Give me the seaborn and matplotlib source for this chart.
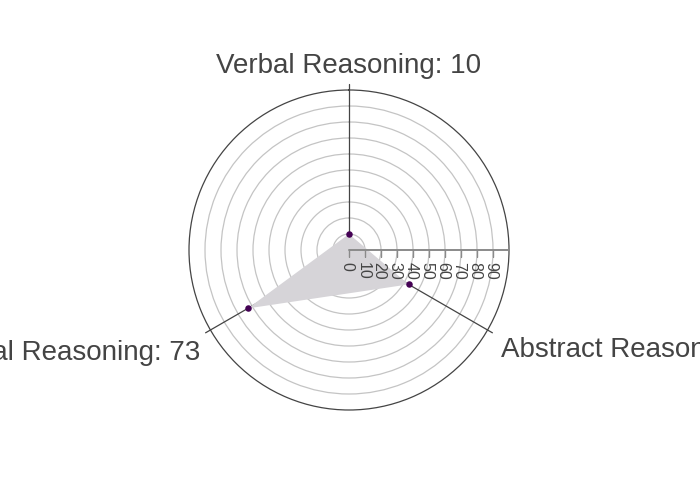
import matplotlib
matplotlib.use("Agg")
import matplotlib.pyplot as plt
import numpy as np
import seaborn as sns

# ------------------------------------------------------------
# DATA
# ------------------------------------------------------------
categories = ["Verbal Reasoning", "Abstract Reasoning", "Numerical Reasoning"]
scores = [10, 43, 73]
radial_ticks = [0, 10, 20, 30, 40, 50, 60, 70, 80, 90]
radial_max = 100

# ------------------------------------------------------------
# STYLE
# ------------------------------------------------------------
sns.set_theme(style="white")
plt.rcParams["font.family"] = ["Liberation Sans", "DejaVu Sans"]

TEXT = "#444444"
FILL = "#d6d4d8"
MARKER = "#440154"

fig = plt.figure(figsize=(7, 5), dpi=100)
ax = fig.add_axes([189 / 700, 90 / 500, 320 / 700, 320 / 500], projection="polar")
ax.set_theta_offset(np.pi / 2)
ax.set_theta_direction(-1)
ax.set_ylim(0, radial_max)

theta = np.deg2rad(np.arange(len(categories)) * 360 / len(categories))

# grid
ax.set_yticks(radial_ticks)
ax.set_yticklabels([])
ax.yaxis.grid(True, color="#c4c4c4", lw=0.9)
ax.set_xticks(theta)
ax.set_xticklabels([])
ax.xaxis.grid(False)
ax.spines["polar"].set_color(TEXT)
ax.spines["polar"].set_linewidth(0.9)

# angular axis lines (with outside tick)
for t in theta:
    ax.plot([t, t], [0, radial_max * 1.035], color=TEXT, lw=0.9,
            clip_on=False, zorder=1)

# filled trace
theta_closed = np.append(theta, theta[0])
scores_closed = np.append(scores, scores[0])
ax.fill(theta_closed, scores_closed, color=FILL, lw=0, zorder=2)
sns.scatterplot(x=theta, y=scores, ax=ax, color=MARKER, s=22,
                linewidth=0, zorder=4)

# radial axis along the horizontal to the right
axis_t = np.pi / 2
ax.plot([axis_t, axis_t], [0, radial_max], color="#8a8a8a", lw=1.4, zorder=3)
ax.plot(np.full(len(radial_ticks), axis_t), radial_ticks, ls="none",
        marker=3, ms=5, mew=1, color="#8a8a8a", zorder=3)
for r in radial_ticks:
    ax.annotate(str(r), xy=(axis_t, r), xytext=(-2, -12),
                textcoords="offset pixels", rotation=-90,
                ha="center", va="top", fontsize=11.5, color=TEXT)

# category labels
offsets = [(0, 17, "center"), (13, -27, "left"), (-10, -30, "right")]
for t, name, val, (dx, dy, ha) in zip(theta, categories, scores, offsets):
    ax.annotate(f"{name}: {val}", xy=(t, radial_max), xytext=(dx, dy),
                textcoords="offset pixels", ha=ha, va="baseline",
                fontsize=20, color=TEXT, annotation_clip=False)

ax.set_xlabel("")
ax.set_ylabel("")

fig.savefig("out.png", dpi=100)
